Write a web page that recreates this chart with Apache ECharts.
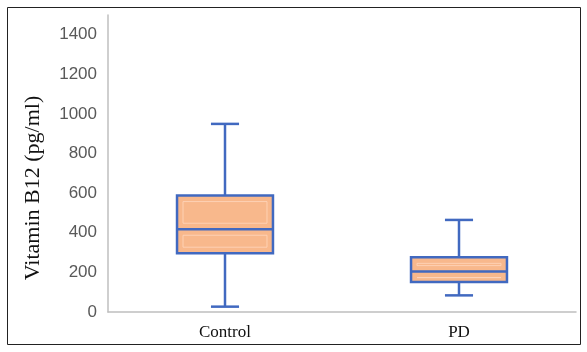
<!DOCTYPE html>
<html><head><meta charset="utf-8">
<script src="https://cdn.jsdelivr.net/npm/echarts@6/dist/echarts.min.js"></script>
<style>html,body{margin:0;padding:0;background:#fff}#c{width:587px;height:352px}</style>
</head><body><div id="c"></div>
<script>
const categories = ['Control', 'PD'];
const whiskerLow = [27, 84];
const q1 = [297, 152];
const median = [418, 204];
const q3 = [588, 276];
const whiskerHigh = [950, 465];
const yTicks = [0, 200, 400, 600, 800, 1000, 1200, 1400];

const data = categories.map((c, i) => [i, whiskerLow[i], q1[i], median[i], q3[i], whiskerHigh[i]]);
const chart = echarts.init(document.getElementById('c'));
const blue = '#4169c0';
chart.setOption({
  animation: false,
  grid: {left: 108, right: 11, top: 15, bottom: 40},
  xAxis: {
    type: 'category', data: categories,
    axisLine: {lineStyle: {color: '#bfbfbf', width: 1.5}},
    axisTick: {show: false},
    axisLabel: {color: '#111', fontFamily: 'Liberation Serif', fontSize: 17, margin: 12}
  },
  yAxis: {
    type: 'value', min: 0, max: 1500, interval: 200,
    axisLine: {show: true, lineStyle: {color: '#bfbfbf', width: 1.5}},
    axisTick: {show: false},
    splitLine: {show: false},
    axisLabel: {color: '#595959', fontFamily: 'Liberation Sans', fontSize: 17, margin: 11,
      formatter: v => yTicks.indexOf(v) >= 0 ? String(v) : ''}
  },
  graphic: [
    {type: 'rect', shape: {x: 7.5, y: 7.5, width: 573, height: 337}, style: {fill: 'none', stroke: '#222', lineWidth: 1}, silent: true},
    {type: 'text', x: 33, y: 188, rotation: Math.PI / 2, style: {text: 'Vitamin B12 (pg/ml)', fontFamily: 'Liberation Serif', fontSize: 22, fill: '#111', align: 'center', verticalAlign: 'middle'}}
  ],
  series: [{
    type: 'custom',
    data: data,
    encode: {x: 0, y: [1, 2, 3, 4, 5]},
    renderItem: function (params, api) {
      const x = api.value(0);
      const pLow = api.coord([x, api.value(1)]);
      const pQ1 = api.coord([x, api.value(2)]);
      const pMed = api.coord([x, api.value(3)]);
      const pQ3 = api.coord([x, api.value(4)]);
      const pHigh = api.coord([x, api.value(5)]);
      const band = api.size([1, 0])[0];
      const bw = band * 0.41;
      const cw = band * 0.12;
      const cx = pMed[0];
      const ls = {stroke: blue, lineWidth: 2.5, fill: null};
      const inset = 6;
      return {type: 'group', children: [
        {type: 'line', shape: {x1: cx, y1: pHigh[1], x2: cx, y2: pQ3[1]}, style: ls},
        {type: 'line', shape: {x1: cx, y1: pQ1[1], x2: cx, y2: pLow[1]}, style: ls},
        {type: 'line', shape: {x1: cx - cw / 2, y1: pHigh[1], x2: cx + cw / 2, y2: pHigh[1]}, style: ls},
        {type: 'line', shape: {x1: cx - cw / 2, y1: pLow[1], x2: cx + cw / 2, y2: pLow[1]}, style: ls},
        {type: 'rect', shape: {x: cx - bw / 2, y: pQ3[1], width: bw, height: pQ1[1] - pQ3[1]}, style: {fill: '#f8b88c', stroke: blue, lineWidth: 2.5}},
        {type: 'rect', shape: {x: cx - bw / 2 + inset, y: pQ3[1] + inset, width: bw - 2 * inset, height: Math.max(0, pMed[1] - pQ3[1] - 2 * inset)}, style: {fill: null, stroke: 'rgba(255,215,190,0.8)', lineWidth: 1}},
        {type: 'rect', shape: {x: cx - bw / 2 + inset, y: pMed[1] + inset, width: bw - 2 * inset, height: Math.max(0, pQ1[1] - pMed[1] - 2 * inset)}, style: {fill: null, stroke: 'rgba(255,215,190,0.8)', lineWidth: 1}},
        {type: 'line', shape: {x1: cx - bw / 2, y1: pMed[1], x2: cx + bw / 2, y2: pMed[1]}, style: ls}
      ]};
    }
  }]
});
</script></body></html>
